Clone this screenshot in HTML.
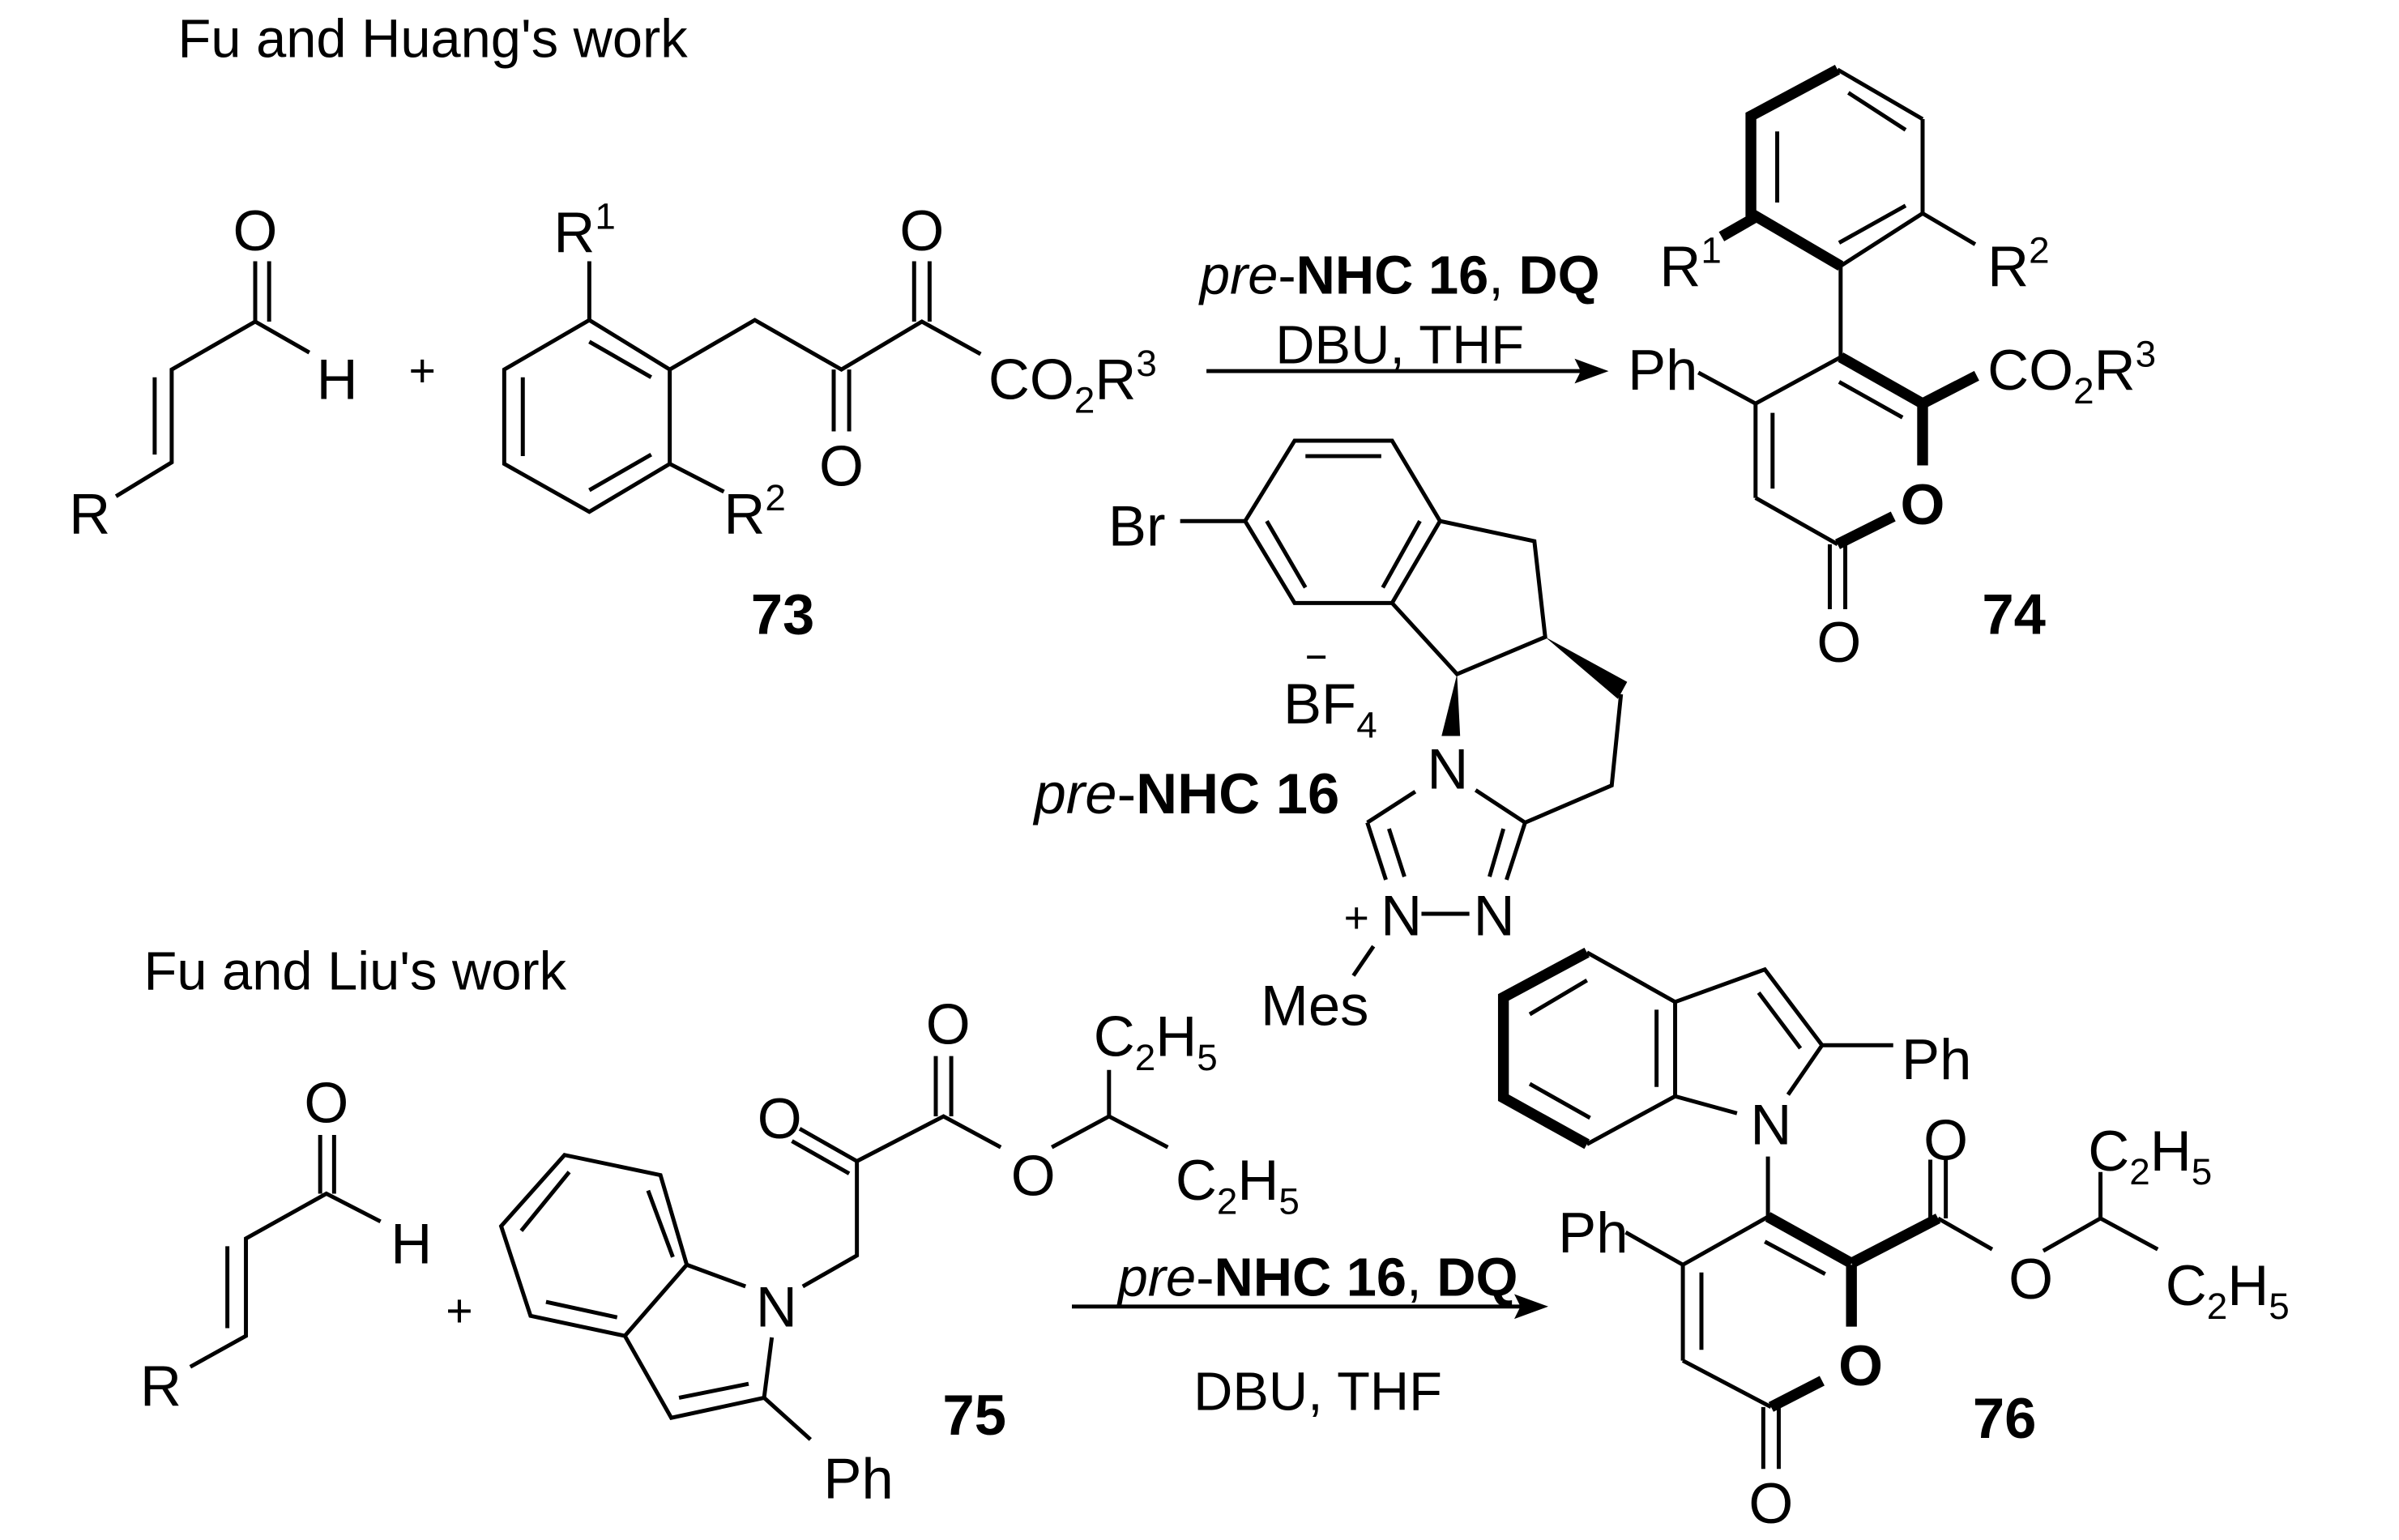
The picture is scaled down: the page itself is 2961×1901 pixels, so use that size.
<!DOCTYPE html>
<html><head><meta charset="utf-8"><style>
html,body{margin:0;padding:0;background:#fff;}
svg{display:block;}
text{font-family:"Liberation Sans",Arial,sans-serif;fill:#000;}
</style></head><body>
<svg width="2961" height="1901" viewBox="0 0 1551 996" preserveAspectRatio="none" xmlns="http://www.w3.org/2000/svg">
<g stroke="#000" stroke-width="2.6" fill="none" stroke-linecap="butt" stroke-linejoin="miter">
<polyline points="75,321 111,299 111,239 165,208 200,228"/>
<line x1="100" y1="294" x2="100" y2="244"/>
<line x1="165" y1="208" x2="165" y2="169"/><line x1="174" y1="208" x2="174" y2="169"/>
<polygon points="381,207 433,239 433,300 381,331 326,300 326,239"/>
<line x1="381" y1="221" x2="421" y2="244"/><line x1="381" y1="317" x2="421" y2="294"/><line x1="338" y1="244" x2="338" y2="295"/>
<line x1="381" y1="207" x2="381" y2="169"/>
<line x1="433" y1="300" x2="468" y2="318"/>
<polyline points="433,239 488,207 544,239 596,208 634,229"/>
<line x1="539" y1="239" x2="539" y2="279"/><line x1="549" y1="239" x2="549" y2="279"/>
<line x1="591" y1="208" x2="591" y2="169"/><line x1="601" y1="208" x2="601" y2="169"/>
<line x1="780" y1="240" x2="1028" y2="240"/>
<line x1="1243" y1="138" x2="1190" y2="172"/>
<line x1="1243" y1="138" x2="1243" y2="77"/>
<line x1="1243" y1="77" x2="1188" y2="45"/>
<line x1="1149" y1="85" x2="1149" y2="131"/><line x1="1189" y1="157" x2="1232" y2="133"/><line x1="1232" y1="84" x2="1195" y2="60"/>
<line x1="1243" y1="138" x2="1277" y2="158"/>
<line x1="1190" y1="172" x2="1190" y2="231"/>
<line x1="1190" y1="231" x2="1135" y2="261"/><line x1="1098" y1="241" x2="1135" y2="261"/>
<line x1="1135" y1="261" x2="1135" y2="322"/><line x1="1146" y1="267" x2="1146" y2="316"/>
<line x1="1135" y1="322" x2="1188" y2="352"/>
<line x1="1189" y1="247" x2="1230" y2="270"/>
<line x1="1183" y1="352" x2="1183" y2="394"/><line x1="1193" y1="352" x2="1193" y2="394"/>
<polygon points="837,285 900,285 931,337 900,390 837,390 805,337"/>
<line x1="844" y1="295" x2="893" y2="295"/><line x1="819" y1="337" x2="844" y2="380"/><line x1="918" y1="337" x2="894" y2="380"/>
<line x1="763" y1="337" x2="805" y2="337"/>
<polyline points="931,337 992,350 999,412 942,436 900,390"/>
<polyline points="1048,449 1042,508 986,532"/>
<line x1="915" y1="512" x2="884" y2="532"/><line x1="884" y1="532" x2="896" y2="569"/><line x1="898" y1="536" x2="908" y2="567"/>
<line x1="919" y1="591" x2="950" y2="591"/>
<line x1="974" y1="569" x2="986" y2="532"/><line x1="963" y1="567" x2="972" y2="536"/>
<line x1="954" y1="511" x2="986" y2="532"/>
<line x1="888" y1="612" x2="875" y2="631"/>
<polyline points="123,884 159,864 159,801 211,772 246,790"/>
<line x1="147" y1="859" x2="147" y2="806"/>
<line x1="207" y1="772" x2="207" y2="734"/><line x1="216" y1="772" x2="216" y2="734"/>
<polygon points="365,747 427,760 444,818 404,864 343,851 324,793"/>
<line x1="419" y1="770" x2="435" y2="813"/><line x1="353" y1="842" x2="399" y2="852"/><line x1="337" y1="796" x2="368" y2="758"/>
<line x1="444" y1="818" x2="482" y2="832"/>
<line x1="499" y1="865" x2="494" y2="904"/>
<polyline points="494,904 434,917 404,864"/>
<line x1="439" y1="904" x2="484" y2="895"/>
<line x1="494" y1="904" x2="524" y2="931"/>
<polyline points="519,832 554,812 554,751 610,722 647,742"/>
<line x1="554" y1="751" x2="517" y2="730"/><line x1="549" y1="759" x2="512" y2="738"/>
<line x1="605" y1="722" x2="605" y2="683"/><line x1="615" y1="722" x2="615" y2="683"/>
<polyline points="680,742 717,722 755,742"/><line x1="717" y1="722" x2="717" y2="692"/>
<line x1="693" y1="845" x2="990" y2="845"/>
<polyline points="1026,616 1083,648 1083,709 1026,740"/>
<line x1="989" y1="656" x2="1026" y2="634"/><line x1="989" y1="701" x2="1028" y2="723"/><line x1="1071" y1="653" x2="1071" y2="703"/>
<polyline points="1083,648 1141,627 1178,676 1156,708"/>
<line x1="1137" y1="642" x2="1164" y2="678"/>
<line x1="1178" y1="676" x2="1224" y2="676"/>
<line x1="1083" y1="709" x2="1123" y2="720"/>
<line x1="1143" y1="748" x2="1143" y2="787"/>
<line x1="1143" y1="787" x2="1088" y2="818"/><line x1="1051" y1="797" x2="1088" y2="818"/>
<line x1="1088" y1="818" x2="1088" y2="880"/><line x1="1100" y1="823" x2="1100" y2="873"/>
<line x1="1088" y1="880" x2="1145" y2="910"/>
<line x1="1141" y1="803" x2="1180" y2="824"/>
<line x1="1140" y1="910" x2="1140" y2="950"/><line x1="1150" y1="910" x2="1150" y2="950"/>
<line x1="1248" y1="788" x2="1248" y2="750"/><line x1="1258" y1="788" x2="1258" y2="750"/>
<line x1="1253" y1="788" x2="1288" y2="808"/>
<polyline points="1321,809 1358,788 1395,808"/><line x1="1358" y1="788" x2="1358" y2="758"/>
</g>
<g stroke="#000" stroke-width="7" fill="none" stroke-linecap="butt" stroke-linejoin="miter">
<polyline points="1188,45 1132,75 1132,138 1190,172"/>
<line x1="1134" y1="141" x2="1113" y2="153"/>
<line x1="1190" y1="231" x2="1243" y2="261"/>
<line x1="1243" y1="261" x2="1243" y2="301"/>
<line x1="1188" y1="352" x2="1224" y2="334"/>
<line x1="1243" y1="261" x2="1278" y2="243"/>
<polyline points="1026,616 972,645 972,710 1026,740"/>
<line x1="1143" y1="787" x2="1197" y2="817"/>
<line x1="1197" y1="818" x2="1197" y2="858"/>
<line x1="1145" y1="910" x2="1178" y2="893"/>
<line x1="1197" y1="817" x2="1253" y2="788"/>
</g>
<polygon points="999,412 1052,441 1046,452" fill="#000"/>
<polygon points="942,436 932,476 944,476" fill="#000"/>
<polygon points="1040,240 1018,232 1022,240 1018,248" fill="#000"/>
<polygon points="1001,845 979,837 983,845 979,853" fill="#000"/>
<g font-size="37" text-anchor="middle">
<text x="165" y="162">O</text>
<text x="218" y="258">H</text>
<text x="58" y="345">R</text>
<text x="273" y="250" font-size="30">+</text>
<text x="378" y="163">R<tspan font-size="24" dy="-15">1</tspan></text>
<text x="488" y="345">R<tspan font-size="24" dy="-15">2</tspan></text>
<text x="596" y="162">O</text>
<text x="544" y="314">O</text>
<text x="639" y="258" text-anchor="start">CO<tspan font-size="24" dy="9">2</tspan><tspan dy="-9">R</tspan><tspan font-size="24" dy="-15">3</tspan></text>
<text x="506" y="410" font-weight="bold">73</text>
<text x="905" y="190" font-size="35"><tspan font-style="italic">pre</tspan>-<tspan font-weight="bold">NHC 16</tspan>, <tspan font-weight="bold">DQ</tspan></text>
<text x="905" y="235" font-size="35">DBU, THF</text>
<text x="1093" y="185">R<tspan font-size="24" dy="-15">1</tspan></text>
<text x="1305" y="185">R<tspan font-size="24" dy="-15">2</tspan></text>
<text x="1075" y="252">Ph</text>
<text x="1285" y="252" text-anchor="start">CO<tspan font-size="24" dy="9">2</tspan><tspan dy="-9">R</tspan><tspan font-size="24" dy="-15">3</tspan></text>
<text x="1243" y="339" font-weight="bold">O</text>
<text x="1189" y="428">O</text>
<text x="1302" y="410" font-weight="bold">74</text>
<text x="735" y="353">Br</text>
<text x="860" y="468">B<tspan>F</tspan><tspan font-size="24" dy="9">4</tspan></text>
<line x1="845" y1="425" x2="857" y2="425" stroke="#000" stroke-width="2"/>
<text x="866" y="526" text-anchor="end"><tspan font-style="italic">pre</tspan>-<tspan font-weight="bold">NHC 16</tspan></text>
<text x="936" y="510">N</text>
<text x="906" y="605">N</text>
<text x="877" y="603" font-size="28">+</text>
<text x="966" y="605">N</text>
<text x="850" y="663">Mes</text>
<text x="211" y="726">O</text>
<text x="266" y="817">H</text>
<text x="104" y="909">R</text>
<text x="297" y="858" font-size="30">+</text>
<text x="502" y="858">N</text>
<text x="555" y="969">Ph</text>
<text x="630" y="928" font-weight="bold">75</text>
<text x="504" y="736">O</text>
<text x="613" y="675">O</text>
<text x="668" y="773">O</text>
<text x="707" y="683" text-anchor="start">C<tspan font-size="24" dy="9">2</tspan><tspan dy="-9">H</tspan><tspan font-size="24" dy="9">5</tspan></text>
<text x="760" y="776" text-anchor="start">C<tspan font-size="24" dy="9">2</tspan><tspan dy="-9">H</tspan><tspan font-size="24" dy="9">5</tspan></text>
<text x="852" y="838" font-size="35"><tspan font-style="italic">pre</tspan>-<tspan font-weight="bold">NHC 16</tspan>, <tspan font-weight="bold">DQ</tspan></text>
<text x="852" y="912" font-size="35">DBU, THF</text>
<text x="1252" y="698">Ph</text>
<text x="1145" y="740">N</text>
<text x="1030" y="810">Ph</text>
<text x="1203" y="896" font-weight="bold">O</text>
<text x="1145" y="985">O</text>
<text x="1258" y="750">O</text>
<text x="1313" y="840">O</text>
<text x="1296" y="930" font-weight="bold">76</text>
<text x="1350" y="757" text-anchor="start">C<tspan font-size="24" dy="9">2</tspan><tspan dy="-9">H</tspan><tspan font-size="24" dy="9">5</tspan></text>
<text x="1400" y="844" text-anchor="start">C<tspan font-size="24" dy="9">2</tspan><tspan dy="-9">H</tspan><tspan font-size="24" dy="9">5</tspan></text>
<text x="115" y="37" font-size="35" text-anchor="start">Fu and Huang's work</text>
<text x="93" y="640" font-size="35" text-anchor="start">Fu and Liu's work</text>
</g>
</svg>
</body></html>
